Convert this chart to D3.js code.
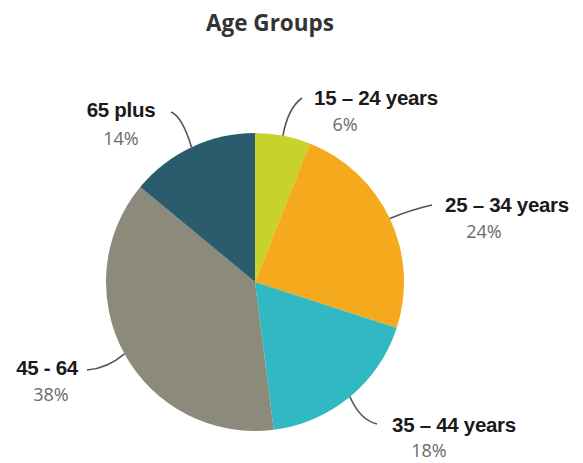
<!DOCTYPE html>
<html><head><meta charset="utf-8">
<script src="https://cdn.jsdelivr.net/npm/d3@7"></script>
<style>body{margin:0;background:#fff}svg{display:block}</style>
</head><body>
<script>
const title = "Age Groups";
const categories = ["15 – 24 years", "25 – 34 years", "35 – 44 years", "45 - 64", "65 plus"];
const values = [6, 24, 18, 38, 14];
const colors = ["#c8d22c", "#f5a91c", "#30b8c3", "#8b8a7b", "#2b5c6d"];
// label layout: name center x, name baseline y, pct center x, pct baseline y, leader end x, leader end y, control x, control y
const labelLayout = [
  {nx:376, ny:105, px:345, py:131, ex:302, ey:98,  cx:288, cy:108},
  {nx:507, ny:212, px:484, py:238, ex:432, ey:205, cx:410, cy:210},
  {nx:454, ny:432, px:429, py:457, ex:377, ey:424, cx:360, cy:420},
  {nx:47,  ny:375, px:51,  py:401, ex:87,  ey:370, cx:108, cy:368},
  {nx:121, ny:117, px:121, py:145, ex:171, ey:112, cx:182, cy:116}
];

const W = 583, H = 463, cx = 255, cy = 282, R = 149;
const svg = d3.select("body").append("svg").attr("width", W).attr("height", H);

svg.append("text").attr("x", 270).attr("y", 31).attr("text-anchor", "middle")
  .attr("font-family", "Open Sans").attr("font-weight", "bold").attr("font-size", 22.5)
  .attr("fill", "#333").text(title);

const data = categories.map((c, i) => ({name: c, value: values[i], color: colors[i], lay: labelLayout[i]}));
const pie = d3.pie().value(d => d.value).sort(null);
const arcs = pie(data);
const arc = d3.arc().innerRadius(0).outerRadius(R);

const g = svg.append("g").attr("transform", `translate(${cx},${cy})`);
g.selectAll("path.slice").data(arcs).join("path").attr("class", "slice")
  .attr("d", arc).attr("fill", d => d.data.color);

// leader lines
svg.selectAll("path.leader").data(arcs).join("path").attr("class", "leader")
  .attr("d", d => {
    const mid = (d.startAngle + d.endAngle) / 2;
    const [px, py] = d3.pointRadial(mid, R);
    const L = d.data.lay;
    const p = d3.path();
    p.moveTo(cx + px, cy + py);
    p.quadraticCurveTo(L.cx, L.cy, L.ex, L.ey);
    return p.toString();
  })
  .attr("fill", "none").attr("stroke", "#555").attr("stroke-width", 1.6);

svg.selectAll("text.name").data(arcs).join("text").attr("class", "name")
  .attr("x", d => d.data.lay.nx).attr("y", d => d.data.lay.ny).attr("text-anchor", "middle")
  .attr("font-family", "Liberation Sans, Arial, sans-serif").attr("font-weight", "bold")
  .attr("font-size", 20.5).attr("fill", "#1a1a1a").attr("letter-spacing", "-0.3")
  .text(d => d.data.name);

svg.selectAll("text.pct").data(arcs).join("text").attr("class", "pct")
  .attr("x", d => d.data.lay.px).attr("y", d => d.data.lay.py).attr("text-anchor", "middle")
  .attr("font-family", "Open Sans").attr("font-size", 18).attr("fill", "#6a6a6a")
  .text(d => d.data.value + "%");
</script>
</body></html>
